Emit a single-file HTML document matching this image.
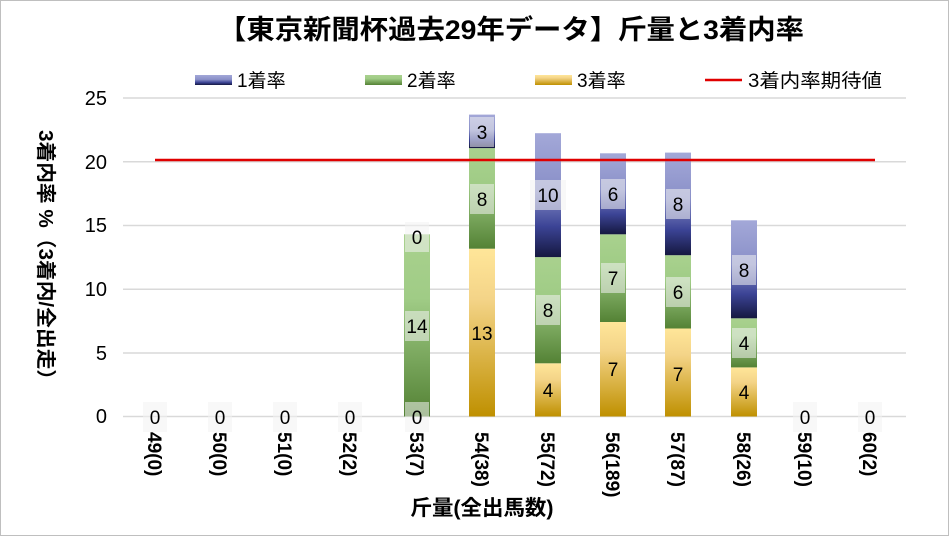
<!DOCTYPE html>
<html><head><meta charset="utf-8"><style>
body{margin:0;background:#fff}
svg{display:block;font-family:"Liberation Sans","Noto Sans CJK JP",sans-serif}
</style></head><body>
<svg width="949" height="536" viewBox="0 0 949 536" xmlns="http://www.w3.org/2000/svg">
<defs>
<linearGradient id="gb" x1="0" y1="0" x2="0" y2="1"><stop offset="0" stop-color="#a3a8d8"/><stop offset="0.45" stop-color="#8a90c8"/><stop offset="0.75" stop-color="#3c4496"/><stop offset="1" stop-color="#151840"/></linearGradient>
<linearGradient id="gg" x1="0" y1="0" x2="0" y2="1"><stop offset="0" stop-color="#a9d18e"/><stop offset="0.35" stop-color="#a0cc86"/><stop offset="1" stop-color="#548235"/></linearGradient>
<linearGradient id="gy" x1="0" y1="0" x2="0" y2="1"><stop offset="0" stop-color="#ffe699"/><stop offset="0.3" stop-color="#f4d488"/><stop offset="1" stop-color="#bf9000"/></linearGradient>
</defs>
<rect x="0.5" y="0.5" width="948" height="535" fill="#fff" stroke="#bfbfbf"/>
<text x="511" y="39" font-size="27" font-weight="bold" text-anchor="middle" textLength="586" lengthAdjust="spacingAndGlyphs">【東京新聞杯過去29年データ】斤量と3着内率</text>
<!-- legend -->
<rect x="195" y="75" width="37" height="10" fill="url(#gb)"/><text x="237" y="87" font-size="19">1着率</text>
<rect x="365" y="75" width="37" height="10" fill="url(#gg)"/><text x="407" y="87" font-size="19">2着率</text>
<rect x="535" y="75" width="37" height="10" fill="url(#gy)"/><text x="577" y="87" font-size="19">3着率</text>
<line x1="705" y1="80" x2="742" y2="80" stroke="#e00000" stroke-width="2.5"/><text x="748" y="87" font-size="19" textLength="134" lengthAdjust="spacingAndGlyphs">3着内率期待値</text>
<!-- grid -->
<g stroke="#d9d9d9" stroke-width="1.5">
<line x1="123" y1="98" x2="906" y2="98"/><line x1="123" y1="161.75" x2="906" y2="161.75"/><line x1="123" y1="225.5" x2="906" y2="225.5"/><line x1="123" y1="289.25" x2="906" y2="289.25"/><line x1="123" y1="353" x2="906" y2="353"/><line x1="123" y1="416.5" x2="906" y2="416.5"/>
</g>
<g font-size="20" text-anchor="end">
<text x="107" y="105">25</text><text x="107" y="169">20</text><text x="107" y="232">15</text><text x="107" y="296">10</text><text x="107" y="360">5</text><text x="107" y="423">0</text>
</g>
<text transform="translate(39,260) rotate(90)" font-size="20" font-weight="bold" text-anchor="middle" textLength="260" lengthAdjust="spacingAndGlyphs">3着内率 %（3着内/全出走）</text>
<!-- bars -->
<g>
<rect x="404" y="234.3" width="26" height="182.2" fill="url(#gg)"/>
<rect x="469" y="248.7" width="26" height="167.8" fill="url(#gy)"/>
<rect x="469" y="148.1" width="26" height="100.6" fill="url(#gg)"/>
<rect x="469" y="114.6" width="26" height="33.5" fill="url(#gb)"/>
<rect x="535" y="363.3" width="26" height="53.2" fill="url(#gy)"/>
<rect x="535" y="257.1" width="26" height="106.2" fill="url(#gg)"/>
<rect x="535" y="133.2" width="26" height="123.9" fill="url(#gb)"/>
<rect x="600" y="322" width="26" height="94.5" fill="url(#gy)"/>
<rect x="600" y="234.3" width="26" height="87.7" fill="url(#gg)"/>
<rect x="600" y="153.3" width="26" height="81" fill="url(#gb)"/>
<rect x="665" y="328.5" width="26" height="88" fill="url(#gy)"/>
<rect x="665" y="255.2" width="26" height="73.3" fill="url(#gg)"/>
<rect x="665" y="152.6" width="26" height="102.6" fill="url(#gb)"/>
<rect x="731" y="367.4" width="26" height="49.1" fill="url(#gy)"/>
<rect x="731" y="318.3" width="26" height="49.1" fill="url(#gg)"/>
<rect x="731" y="220.3" width="26" height="98" fill="url(#gb)"/>
</g>
<line x1="155" y1="160" x2="875" y2="160" stroke="#e00000" stroke-width="2.5"/>
<!-- data labels -->
<g font-size="19" text-anchor="middle">
<g fill="#f2f2f2" fill-opacity="0.55">
<rect x="143" y="402" width="24" height="30"/><rect x="208" y="402" width="24" height="30"/><rect x="273" y="402" width="24" height="30"/><rect x="338" y="402" width="24" height="30"/>
<rect x="405" y="402" width="24" height="30"/><rect x="405" y="311" width="24" height="30"/><rect x="405" y="222" width="24" height="30"/>
<rect x="470" y="184" width="24" height="30"/><rect x="470" y="117" width="24" height="30"/>
<rect x="530" y="180" width="36" height="30"/><rect x="536" y="295" width="24" height="30"/>
<rect x="601" y="179" width="24" height="30"/><rect x="601" y="263" width="24" height="30"/>
<rect x="666" y="189" width="24" height="30"/><rect x="666" y="277" width="24" height="30"/>
<rect x="732" y="255" width="24" height="30"/><rect x="732" y="328" width="24" height="30"/>
<rect x="793" y="402" width="24" height="30"/><rect x="858" y="402" width="24" height="30"/>
</g>
<text x="155" y="424">0</text><text x="220" y="424">0</text><text x="285" y="424">0</text><text x="350" y="424">0</text>
<text x="417" y="424">0</text><text x="417" y="333">14</text><text x="417" y="244">0</text>
<text x="482" y="340">13</text><text x="482" y="206">8</text><text x="482" y="139">3</text>
<text x="548" y="397">4</text><text x="548" y="317">8</text><text x="548" y="202">10</text>
<text x="613" y="376">7</text><text x="613" y="285">7</text><text x="613" y="201">6</text>
<text x="678" y="381">7</text><text x="678" y="299">6</text><text x="678" y="211">8</text>
<text x="744" y="399">4</text><text x="744" y="350">4</text><text x="744" y="277">8</text>
<text x="805" y="424">0</text><text x="870" y="424">0</text>
</g>
<!-- category labels -->
<g font-size="19" font-weight="bold">
<text transform="translate(148,432) rotate(90)">49(0)</text>
<text transform="translate(213,432) rotate(90)">50(0)</text>
<text transform="translate(278,432) rotate(90)">51(0)</text>
<text transform="translate(343,432) rotate(90)">52(2)</text>
<text transform="translate(410,432) rotate(90)">53(7)</text>
<text transform="translate(475,432) rotate(90)">54(38)</text>
<text transform="translate(541,432) rotate(90)">55(72)</text>
<text transform="translate(606,432) rotate(90)">56(189)</text>
<text transform="translate(671,432) rotate(90)">57(87)</text>
<text transform="translate(737,432) rotate(90)">58(26)</text>
<text transform="translate(798,432) rotate(90)">59(10)</text>
<text transform="translate(863,432) rotate(90)">60(2)</text>
</g>
<text x="482" y="515" font-size="21" font-weight="bold" text-anchor="middle" textLength="143" lengthAdjust="spacingAndGlyphs">斤量(全出馬数)</text>
</svg>
</body></html>
